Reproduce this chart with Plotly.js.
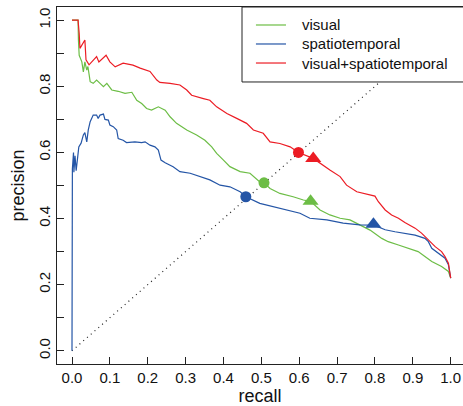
<!DOCTYPE html>
<html>
<head>
<meta charset="utf-8">
<script src="https://cdn.plot.ly/plotly-3.0.1.min.js"></script>
<style>html,body{margin:0;padding:0;background:#fff;}#chart{width:463px;height:406px;}</style>
</head>
<body>
<div id="chart"></div>
<script>
// ---- data ----
const seriesNames = ["visual", "spatiotemporal", "visual+spatiotemporal"];
const seriesColors = ["#6cbd45", "#2455a6", "#ec1c24"];

const visualRecall = [0, 0.016, 0.017, 0.019, 0.026, 0.030, 0.034, 0.039, 0.042, 0.048, 0.056, 0.065, 0.074, 0.083, 0.092, 0.105, 0.122, 0.140, 0.158, 0.171, 0.184, 0.197, 0.210, 0.228, 0.246, 0.259, 0.276, 0.303, 0.329, 0.351, 0.369, 0.382, 0.400, 0.417, 0.444, 0.470, 0.496, 0.507, 0.523, 0.549, 0.584, 0.611, 0.630, 0.655, 0.681, 0.708, 0.734, 0.760, 0.787, 0.818, 0.835, 0.862, 0.888, 0.914, 0.932, 0.950, 0.976, 0.994, 1.0];
const visualPrecision = [1.0, 1.0, 0.94, 0.894, 0.874, 0.844, 0.874, 0.849, 0.86, 0.814, 0.809, 0.819, 0.809, 0.799, 0.809, 0.789, 0.785, 0.779, 0.782, 0.758, 0.748, 0.733, 0.728, 0.738, 0.728, 0.708, 0.688, 0.668, 0.653, 0.637, 0.617, 0.597, 0.577, 0.557, 0.542, 0.537, 0.511, 0.508, 0.491, 0.476, 0.466, 0.456, 0.452, 0.426, 0.411, 0.401, 0.396, 0.381, 0.365, 0.340, 0.330, 0.320, 0.310, 0.300, 0.285, 0.270, 0.255, 0.240, 0.220];

const stRecall = [0, 0.001, 0.004, 0.005, 0.008, 0.011, 0.018, 0.024, 0.030, 0.034, 0.039, 0.043, 0.048, 0.056, 0.065, 0.069, 0.074, 0.083, 0.087, 0.096, 0.100, 0.109, 0.118, 0.122, 0.135, 0.144, 0.166, 0.184, 0.193, 0.206, 0.219, 0.228, 0.235, 0.246, 0.267, 0.285, 0.312, 0.338, 0.364, 0.391, 0.417, 0.444, 0.459, 0.496, 0.549, 0.602, 0.628, 0.673, 0.716, 0.760, 0.797, 0.827, 0.853, 0.879, 0.906, 0.932, 0.941, 0.950, 0.967, 0.985, 0.994, 1.0];
const stPrecision = [0.0, 0.55, 0.60, 0.54, 0.59, 0.545, 0.617, 0.628, 0.653, 0.66, 0.632, 0.668, 0.693, 0.713, 0.713, 0.703, 0.713, 0.716, 0.70, 0.698, 0.683, 0.678, 0.668, 0.642, 0.637, 0.63, 0.632, 0.63, 0.632, 0.622, 0.617, 0.607, 0.577, 0.569, 0.557, 0.542, 0.537, 0.527, 0.517, 0.501, 0.496, 0.481, 0.466, 0.446, 0.431, 0.416, 0.401, 0.396, 0.386, 0.381, 0.380, 0.366, 0.360, 0.356, 0.350, 0.340, 0.330, 0.310, 0.295, 0.280, 0.260, 0.220];

const bothRecall = [0, 0.016, 0.019, 0.021, 0.034, 0.037, 0.045, 0.065, 0.071, 0.090, 0.100, 0.114, 0.135, 0.161, 0.180, 0.206, 0.224, 0.232, 0.259, 0.285, 0.303, 0.316, 0.347, 0.364, 0.382, 0.409, 0.435, 0.461, 0.479, 0.505, 0.523, 0.549, 0.576, 0.598, 0.637, 0.655, 0.681, 0.708, 0.725, 0.752, 0.774, 0.800, 0.809, 0.827, 0.844, 0.862, 0.879, 0.906, 0.923, 0.941, 0.959, 0.976, 0.985, 0.994, 1.0];
const bothPrecision = [1.0, 1.0, 0.96, 0.915, 0.94, 0.88, 0.865, 0.89, 0.874, 0.894, 0.874, 0.859, 0.870, 0.864, 0.855, 0.845, 0.819, 0.812, 0.809, 0.804, 0.789, 0.773, 0.763, 0.758, 0.738, 0.718, 0.703, 0.688, 0.668, 0.658, 0.632, 0.627, 0.617, 0.600, 0.582, 0.567, 0.547, 0.527, 0.501, 0.481, 0.476, 0.468, 0.451, 0.426, 0.411, 0.401, 0.388, 0.371, 0.356, 0.335, 0.315, 0.300, 0.285, 0.265, 0.220];

// break-even points (circles) and operating points (triangles): visual, spatiotemporal, both
const breakEvenRecall = [0.507, 0.459, 0.598];
const breakEvenPrecision = [0.508, 0.466, 0.600];
const operatingRecall = [0.630, 0.796, 0.637];
const operatingPrecision = [0.452, 0.383, 0.582];

const diagonal = [0, 1];
const tickValues = [0, 0.1, 0.2, 0.3, 0.4, 0.5, 0.6, 0.7, 0.8, 0.9, 1.0];
const xTickLabels = ["0.0", "0.1", "0.2", "0.3", "0.4", "0.5", "0.6", "0.7", "0.8", "0.9", "1.0"];
const yTickLabels = ["0.0", "", "0.2", "", "0.4", "", "0.6", "", "0.8", "", "1.0"];

// ---- traces ----
const FONT = "Liberation Sans, Arial, Helvetica, sans-serif";
const curveX = [visualRecall, stRecall, bothRecall];
const curveY = [visualPrecision, stPrecision, bothPrecision];

const traces = [{
  x: diagonal, y: diagonal, mode: "lines", showlegend: false, hoverinfo: "skip",
  line: {color: "#222", width: 1.2, dash: "1px,4px"}
}];
for (let i = 0; i < 3; i++) {
  traces.push({
    x: curveX[i], y: curveY[i], name: seriesNames[i], mode: "lines", showlegend: false,
    line: {color: seriesColors[i], width: 1.2}
  });
}
for (let i = 0; i < 3; i++) {
  traces.push({
    x: [breakEvenRecall[i]], y: [breakEvenPrecision[i]], mode: "markers", showlegend: false,
    marker: {symbol: "circle", size: 11, color: seriesColors[i]}
  });
  traces.push({
    x: [operatingRecall[i]], y: [operatingPrecision[i]], mode: "markers", showlegend: false,
    marker: {symbol: "triangle-up", size: 14, color: seriesColors[i]}
  });
}

// ---- manual R-style legend ----
const legX0 = 0.4557, legY0 = 0.790;
const rowY = [0.9496, 0.8964, 0.8431];
const shapes = [{
  type: "rect", xref: "paper", yref: "paper", x0: legX0, x1: 1.02, y0: legY0, y1: 1.0,
  fillcolor: "#fff", line: {color: "#222", width: 1}, layer: "above"
}];
const annotations = [];
for (let i = 0; i < 3; i++) {
  shapes.push({
    type: "line", xref: "paper", yref: "paper", x0: 0.490, x1: 0.564, y0: rowY[i], y1: rowY[i],
    line: {color: seriesColors[i], width: 1.2}, layer: "above"
  });
  annotations.push({
    xref: "paper", yref: "paper", x: 0.5985, y: rowY[i], xanchor: "left", yanchor: "middle",
    text: seriesNames[i], showarrow: false, font: {family: FONT, size: 15, color: "#111"}
  });
}

const layout = {
  width: 463, height: 406,
  margin: {l: 57, r: 0, t: 7, b: 42, pad: 0},
  paper_bgcolor: "#fff", plot_bgcolor: "#fff",
  font: {family: FONT, size: 15, color: "#111"},
  showlegend: false,
  xaxis: {
    range: [-0.0396, 1.0325], tickvals: tickValues, ticktext: xTickLabels,
    ticks: "inside", ticklen: 7, tickwidth: 1, tickcolor: "#222",
    showline: true, linecolor: "#222", linewidth: 1.3, mirror: true,
    showgrid: false, zeroline: false,
    tickfont: {family: FONT, size: 15, color: "#111"},
    title: {text: "recall", font: {family: FONT, size: 18, color: "#111"}, standoff: 2}
  },
  yaxis: {
    range: [-0.04, 1.04], tickvals: tickValues, ticktext: yTickLabels, tickangle: -90,
    ticks: "inside", ticklen: 7, tickwidth: 1, tickcolor: "#222",
    showline: true, linecolor: "#222", linewidth: 1.3,
    showgrid: false, zeroline: false,
    tickfont: {family: FONT, size: 15, color: "#111"},
    title: {text: "precision", font: {family: FONT, size: 18, color: "#111"}, standoff: 6}
  },
  shapes: shapes,
  annotations: annotations
};

Plotly.newPlot("chart", traces, layout, {displayModeBar: false, staticPlot: true});
</script>
</body>
</html>
